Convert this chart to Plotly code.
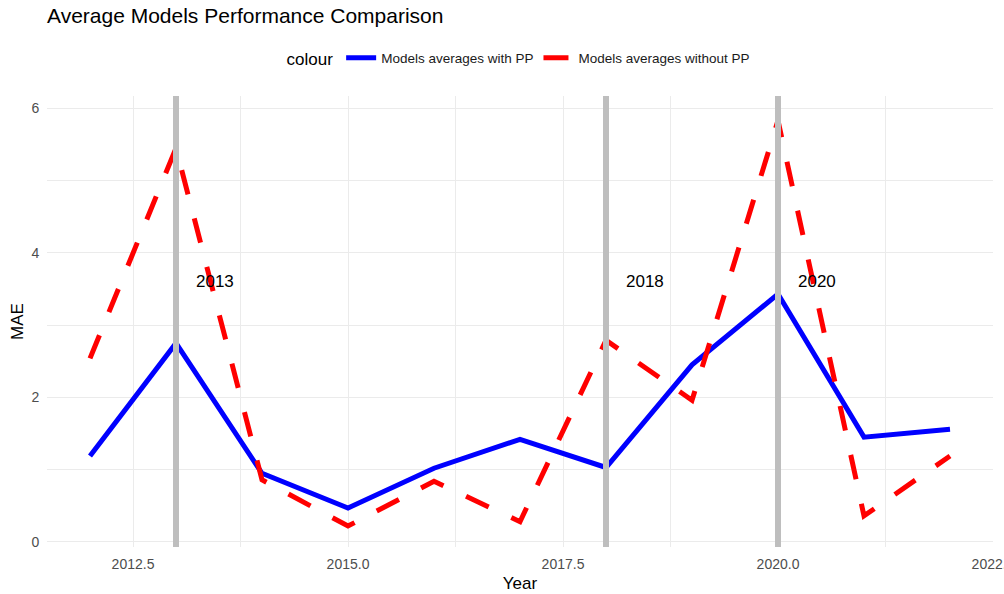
import plotly.graph_objects as go

# data
YEARS = [2012, 2013, 2014, 2015, 2016, 2017, 2018, 2019, 2020, 2021, 2022]
MAE_WITH_PP = [1.19, 2.75, 0.95, 0.47, 1.02, 1.42, 1.03, 2.45, 3.43, 1.45, 1.56]
MAE_WITHOUT_PP = [2.54, 5.45, 0.86, 0.22, 0.84, 0.28, 2.79, 1.96, 5.83, 0.36, 1.19]
MARKED_YEARS = [2013, 2018, 2020]
LABEL_Y = 3.6
X_TICKS = [2012.5, 2015.0, 2017.5, 2020.0, 2022.5]
X_TICK_TEXT = ['2012.5', '2015.0', '2017.5', '2020.0', '2022.5']
Y_TICKS = [0, 2, 4, 6]

FONT = 'Liberation Sans, Arial, sans-serif'
GRID = '#EBEBEB'
TICK_COLOR = '#4D4D4D'

fig = go.Figure()

fig.add_trace(go.Scatter(x=YEARS, y=MAE_WITH_PP, mode='lines',
                         name='Models averages with PP',
                         line={'color': 'blue', 'width': 5}))
fig.add_trace(go.Scatter(x=YEARS, y=MAE_WITHOUT_PP, mode='lines',
                         name='Models averages without PP',
                         line={'color': 'red', 'width': 5, 'dash': '25px,25px'}))

#vertical markers + labels
for yr in MARKED_YEARS:
    fig.add_shape(type='line', x0=yr, x1=yr, xref='x', y0=0, y1=1, yref='paper',
                  line={'color': '#BEBEBE', 'width': 6}, layer='above')
    fig.add_annotation(x=yr, y=LABEL_Y, text=str(yr), showarrow=False,
                       xanchor='left', xshift=18,
                       font={'size': 17, 'color': 'black', 'family': FONT})

#x-axis
fig.update_xaxes(range=[2011.5, 2022.5], tickmode='array', tickvals=X_TICKS,
                 ticktext=X_TICK_TEXT, showgrid=True, gridcolor=GRID, gridwidth=1,
                 minor={'tickvals': [2013.75, 2016.25, 2018.75, 2021.25],
                        'showgrid': True, 'gridcolor': GRID, 'gridwidth': 1},
                 zeroline=False, showline=False, ticks='outside', ticklen=4,
                 tickcolor='rgba(0,0,0,0)', automargin=False, ticklabeloverflow='allow',
                 tickfont={'size': 14, 'color': TICK_COLOR, 'family': FONT},
                 title={'text': 'Year', 'font': {'size': 17, 'color': 'black', 'family': FONT},
                        'standoff': 6})

#y-axis
fig.update_yaxes(range=[-0.07, 6.17], tickmode='array', tickvals=Y_TICKS,
                 showgrid=True, gridcolor=GRID, gridwidth=1,
                 minor={'tickvals': [1, 3, 5], 'showgrid': True, 'gridcolor': GRID, 'gridwidth': 1},
                 zeroline=False, showline=False, ticks='outside', ticklen=4,
                 tickcolor='rgba(0,0,0,0)', automargin=False,
                 tickfont={'size': 14, 'color': TICK_COLOR, 'family': FONT},
                 title={'text': 'MAE', 'font': {'size': 17, 'color': 'black', 'family': FONT},
                        'standoff': 3})

fig.update_layout(width=1004, height=594,
                  margin={'l': 47, 'r': 11, 't': 96, 'b': 47},
                  plot_bgcolor='white', paper_bgcolor='white',
                  font={'family': FONT},
                  title={'text': 'Average Models Performance Comparison',
                         'font': {'size': 21, 'color': 'black', 'family': FONT},
                         'x': 47 / 1004, 'xanchor': 'left', 'y': 1 - 16 / 594, 'yanchor': 'middle',
                         'automargin': False},
                  legend={'orientation': 'h', 'x': 0.5, 'xanchor': 'center',
                          'xref': 'paper',
                          'y': 1 - 59 / 594, 'yref': 'container', 'yanchor': 'middle',
                          'itemwidth': 30,
                          'title': {'text': 'colour', 'font': {'size': 17, 'color': 'black'}},
                          'font': {'size': 13.5, 'color': '#1A1A1A'}},
                  showlegend=True)

#drop the page's default body margin so the figure sits at the window corner
fig.write_html('out.html', config={'displayModeBar': False},
               post_script="document.body.style.margin='0';")
